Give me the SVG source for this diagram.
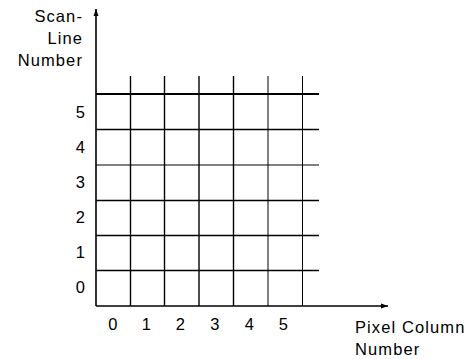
<svg xmlns="http://www.w3.org/2000/svg" width="470" height="359" viewBox="0 0 470 359">
<style>
text{font-family:"Liberation Sans",Arial,sans-serif;font-size:16.5px;letter-spacing:1.1px;fill:#000}
.ax{stroke:#000;stroke-width:1.6;fill:none}
.g{stroke:#000;stroke-width:1.4;fill:none}
.gt{stroke:#000;stroke-width:1;fill:none}
.gb{stroke:#000;stroke-width:2.2;fill:none}
</style>
<defs>
<marker id="ah" markerWidth="8" markerHeight="6" refX="7" refY="3" orient="auto" markerUnits="userSpaceOnUse">
<path d="M0,0.5 L7,3 L0,5.5 Z" fill="#000"/>
</marker>
</defs>
<g id="connectors">
<line class="ax" x1="96" y1="306" x2="96" y2="9" marker-end="url(#ah)"/>
<line class="ax" x1="96" y1="306" x2="388" y2="306" marker-end="url(#ah)"/>
</g>
<g id="grid">
<line class="gb" x1="96" y1="94" x2="319" y2="94"/>
<line class="g" x1="96" y1="129.5" x2="319" y2="129.5"/>
<line class="gt" x1="96" y1="165" x2="319" y2="165"/>
<line class="g" x1="96" y1="200.5" x2="319" y2="200.5"/>
<line class="g" x1="96" y1="235.5" x2="319" y2="235.5"/>
<line class="g" x1="96" y1="270.5" x2="319" y2="270.5"/>
<line class="g" x1="130.5" y1="76" x2="130.5" y2="306"/>
<line class="g" x1="164.5" y1="76" x2="164.5" y2="306"/>
<line class="g" x1="199" y1="76" x2="199" y2="306"/>
<line class="g" x1="233.5" y1="76" x2="233.5" y2="306"/>
<line class="gt" x1="268" y1="76" x2="268" y2="306"/>
<line class="gt" x1="302.5" y1="76" x2="302.5" y2="306"/>
</g>
<g id="y-label">
<text x="83" y="22" text-anchor="end">Scan-</text>
<text x="83" y="44" text-anchor="end">Line</text>
<text x="83" y="66" text-anchor="end">Number</text>
</g>
<g id="row-labels" text-anchor="middle">
<text x="81" y="293">0</text>
<text x="81" y="258">1</text>
<text x="81" y="223">2</text>
<text x="81" y="188">3</text>
<text x="81" y="153">4</text>
<text x="81" y="118">5</text>
</g>
<g id="col-labels" text-anchor="middle">
<text x="113.5" y="330">0</text>
<text x="147" y="330">1</text>
<text x="181" y="330">2</text>
<text x="215.5" y="330">3</text>
<text x="250" y="330">4</text>
<text x="284" y="330">5</text>
</g>
<g id="x-label">
<text x="355" y="333">Pixel Column</text>
<text x="355" y="355">Number</text>
</g>
</svg>
